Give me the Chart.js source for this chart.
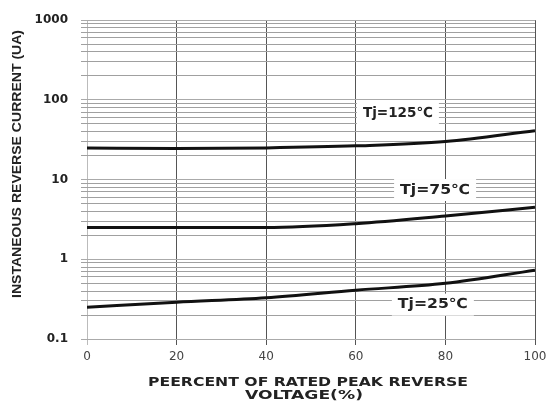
<!DOCTYPE html>
<html><head><meta charset="utf-8">
<script src="https://cdn.jsdelivr.net/npm/chart.js@4"></script>
<style>html,body{margin:0;padding:0;background:#fff;}#wrap{width:552px;height:419px;}</style>
</head><body><div id="wrap"><canvas id="c" width="552" height="419"></canvas></div>
<script>
const xPercent = [0, 20, 40, 60, 80, 100];
const i125 = [25, 24.5, 25, 26.5, 30, 41];
const i75 = [2.5, 2.5, 2.5, 2.8, 3.5, 4.5];
const i25 = [0.25, 0.29, 0.33, 0.41, 0.5, 0.73];
const seriesNames = ['Tj=125℃', 'Tj=75℃', 'Tj=25℃'];
const labelX = [69.4, 77.7, 77.2];
const labelY = [68, 7.4, 0.27];
const yMajor = [0.1, 1, 10, 100, 1000];
const xTicks = [0, 20, 40, 60, 80, 100];
const xTitle = ['PEERCENT OF RATED PEAK REVERSE', 'VOLTAGE(%)'];
const yTitle = 'INSTANEOUS REVERSE CURRENT (UA)';

const pts = arr => arr.map((v, i) => ({x: xPercent[i], y: v}));
const ds = [i125, i75, i25].map((a, k) => ({
  label: seriesNames[k], data: pts(a), borderColor: '#111', borderWidth: 3,
  pointRadius: 0, cubicInterpolationMode: 'monotone', fill: false
}));

// draw text centred at (x,y), horizontally stretched to the target width
function stretchText(ctx, text, x, y, target) {
  const w = ctx.measureText(text).width;
  ctx.save();
  ctx.translate(x, y);
  ctx.scale(target / w, 1);
  ctx.fillText(text, 0, 0);
  ctx.restore();
}

const labelPlugin = {
  id: 'lbls',
  afterDatasetsDraw(chart) {
    const ctx = chart.ctx, xs = chart.scales.x, ys = chart.scales.y;
    ctx.save();
    ctx.textAlign = 'center'; ctx.textBaseline = 'middle';
    ctx.font = 'bold 14px "DejaVu Sans", sans-serif';
    seriesNames.forEach((n, k) => {
      const px = xs.getPixelForValue(labelX[k]), py = ys.getPixelForValue(labelY[k]);
      const tw = n.length > 7 ? 86 : 70;
      ctx.fillStyle = '#fff';
      ctx.fillRect(px - tw / 2 - 6, py - 11, tw + 12, 22);
      ctx.fillStyle = '#222';
      stretchText(ctx, n, px, py, tw);
    });
    // axis titles
    ctx.fillStyle = '#222';
    ctx.font = 'bold 12px "DejaVu Sans", sans-serif';
    stretchText(ctx, xTitle[0], 308, 383, 320);
    stretchText(ctx, xTitle[1], 304, 396, 118);
    ctx.translate(18, 164);
    ctx.rotate(-Math.PI / 2);
    ctx.font = 'bold 12px "Liberation Sans", sans-serif';
    stretchText(ctx, yTitle, 0, 0, 268);
    ctx.restore();
  }
};

new Chart(document.getElementById('c'), {
  type: 'line',
  data: {datasets: ds},
  plugins: [labelPlugin],
  options: {
    responsive: false, animation: false,
    layout: {padding: {top: 18, right: 17, left: 0, bottom: 0}},
    plugins: {legend: {display: false}, tooltip: {enabled: false}},
    scales: {
      x: {
        type: 'linear', min: 0, max: 100,
        afterBuildTicks: s => { s.ticks = xTicks.map(v => ({value: v})); },
        afterFit: s => { s.height = 80; },
        ticks: {color: '#444', font: {family: '"DejaVu Sans"', size: 12}, padding: 5},
        grid: {color: c => c.tick && (c.tick.value === 0) ? '#bbb' : '#555', lineWidth: 1, tickLength: 6, drawTicks: true},
        border: {display: false}
      },
      y: {
        type: 'logarithmic', min: 0.1, max: 1000,
        afterBuildTicks: s => {
          const t = [];
          for (let d = 0.1; d < 1000; d *= 10) for (let m = 1; m < 10; m++) t.push({value: +(d * m).toPrecision(3)});
          t.push({value: 1000});
          s.ticks = t;
        },
        afterFit: s => { s.width = 87; },
        ticks: {
          autoSkip: false, color: '#222',
          font: {family: '"DejaVu Sans"', size: 12, weight: 'bold'}, padding: 13,
          callback: v => yMajor.includes(+(+v).toPrecision(3)) ? String(+(+v).toPrecision(3)) : ''
        },
        grid: {
          color: c => c.tick && yMajor.includes(+(+c.tick.value).toPrecision(3)) ? '#aaa' : '#a0a0a0',
          lineWidth: 1, tickLength: 6
        },
        border: {display: false}
      }
    }
  }
});
</script></body></html>
